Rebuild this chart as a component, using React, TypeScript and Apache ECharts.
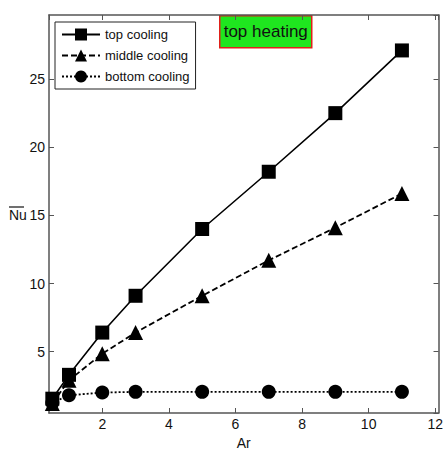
import React, { useEffect, useRef } from "react";
import * as echarts from "echarts";

const arValues = [0.5, 1, 2, 3, 5, 7, 9, 11];
const topCooling = [1.55, 3.3, 6.4, 9.1, 14.0, 18.2, 22.5, 27.1];
const middleCooling = [1.2, 2.9, 4.85, 6.4, 9.1, 11.7, 14.1, 16.6];
const bottomCooling = [1.25, 1.8, 2.0, 2.05, 2.05, 2.05, 2.05, 2.05];
const seriesNames = ["top cooling", "middle cooling", "bottom cooling"];

const FONT = "'Liberation Sans', Arial, sans-serif";

function pairs(ys: number[]) {
  return arValues.map((x, i) => [x, ys[i]]);
}

export default function App() {
  const ref = useRef<HTMLDivElement>(null);
  useEffect(() => {
    if (!ref.current) return;
    const chart = echarts.init(ref.current, null, { renderer: "svg" });
    const axisColor = "#555";
    const xBase = {
      type: "value" as const,
      min: 0.4,
      max: 12.1,
      splitNumber: 6,
      axisLine: { show: true, lineStyle: { color: axisColor, width: 1.5 } },
      axisTick: { show: true, inside: true, length: 5, lineStyle: { color: axisColor } },
      splitLine: { show: false },
    };
    const yBase = {
      type: "value" as const,
      min: 0.5,
      max: 29.7,
      splitNumber: 6,
      axisLine: { show: true, lineStyle: { color: axisColor, width: 1.5 } },
      axisTick: { show: true, inside: true, length: 5, lineStyle: { color: axisColor } },
      splitLine: { show: false },
    };
    chart.setOption({
      animation: false,
      backgroundColor: "#fff",
      grid: { left: 49, right: 3, top: 15, bottom: 42 },
      xAxis: [
        {
          ...xBase,
          position: "bottom",
          name: "Ar",
          nameLocation: "middle",
          nameGap: 22,
          nameTextStyle: { fontFamily: FONT, fontSize: 14, color: "#111" },
          axisLabel: {
            show: true,
            showMinLabel: false,
            showMaxLabel: false,
            fontFamily: FONT,
            fontSize: 14,
            color: "#111",
            margin: 4,
          },
        },
        { ...xBase, position: "top", axisLabel: { show: false } },
      ],
      yAxis: [
        {
          ...yBase,
          position: "left",
          axisLabel: {
            show: true,
            showMinLabel: false,
            showMaxLabel: false,
            fontFamily: FONT,
            fontSize: 14,
            color: "#111",
            margin: 4,
          },
        },
        { ...yBase, position: "right", axisLabel: { show: false } },
      ],
      legend: {
        orient: "vertical",
        left: 55,
        top: 22,
        padding: [6, 6, 6, 6],
        itemGap: 8,
        itemWidth: 38,
        itemHeight: 15,
        backgroundColor: "#fff",
        borderColor: "#222",
        borderWidth: 1,
        textStyle: { fontFamily: FONT, fontSize: 13, color: "#111" },
        data: seriesNames,
      },
      graphic: [
        {
          type: "group",
          left: 219,
          top: 15,
          children: [
            {
              type: "rect",
              shape: { x: 0, y: 0, width: 92, height: 32 },
              style: { fill: "#1fe61f", stroke: "#e0201a", lineWidth: 1.5 },
            },
            {
              type: "text",
              x: 46,
              y: 16,
              style: {
                text: "top heating",
                fontFamily: FONT,
                fontSize: 17,
                fill: "#111",
                align: "center",
                verticalAlign: "middle",
              },
            },
          ],
        },
        {
          type: "text",
          left: 9,
          top: 208,
          style: { text: "Nu", fontFamily: FONT, fontSize: 14, fill: "#111" },
        },
        {
          type: "line",
          shape: { x1: 9, y1: 207, x2: 24, y2: 207 },
          style: { stroke: "#111", lineWidth: 1.2 },
        },
      ],
      series: [
        {
          name: seriesNames[0],
          type: "line",
          data: pairs(topCooling),
          symbol: "rect",
          symbolSize: 14,
          itemStyle: { color: "#000" },
          lineStyle: { color: "#000", width: 1.6, type: "solid" },
        },
        {
          name: seriesNames[1],
          type: "line",
          data: pairs(middleCooling),
          symbol: "triangle",
          symbolSize: 15,
          itemStyle: { color: "#000" },
          lineStyle: { color: "#000", width: 1.8, type: [6, 3] },
        },
        {
          name: seriesNames[2],
          type: "line",
          data: pairs(bottomCooling),
          symbol: "circle",
          symbolSize: 14,
          itemStyle: { color: "#000" },
          lineStyle: { color: "#000", width: 1.8, type: [2, 2] },
        },
      ],
    });
    return () => chart.dispose();
  }, []);
  return <div ref={ref} style={{ width: 446, height: 455, position: "absolute", left: 0, top: 0 }} />;
}
